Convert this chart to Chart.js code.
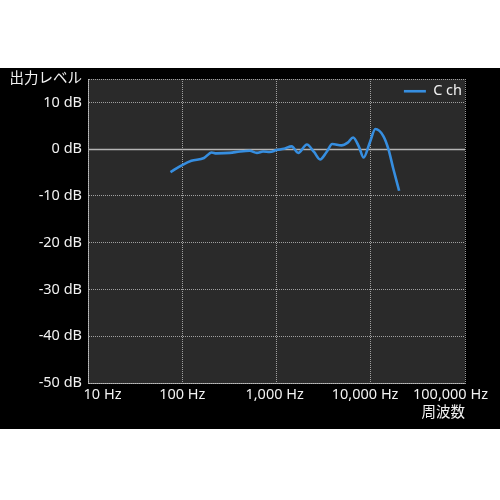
<!DOCTYPE html>
<html><head><meta charset="utf-8">
<script src="https://cdn.jsdelivr.net/npm/chart.js@4.4.1/dist/chart.umd.min.js"></script>
<style>
html,body{margin:0;padding:0;background:#fff;}
#wrap{position:absolute;left:0;top:68px;width:500px;height:361px;background:#000;}
</style>
</head><body>
<div id="wrap"><canvas id="c" width="500" height="361"></canvas></div>
<script>
const seriesName = 'C ch';
const freqs  = [75, 100, 125, 170, 205, 230, 320, 410, 520, 620, 720, 850, 1000, 1200, 1450, 1700, 2100, 2500, 2900, 3400, 3900, 4900, 5700, 6500, 7500, 8400, 9800, 11200, 13600, 15400, 17400, 20000];
const levels = [-4.9, -3.4, -2.5, -1.9, -0.7, -0.9, -0.8, -0.5, -0.35, -0.8, -0.5, -0.6, -0.2, 0.1, 0.6, -0.8, 1.0, -0.6, -2.2, -0.6, 1.1, 0.8, 1.4, 2.5, 0.5, -1.8, 1.5, 4.3, 2.8, 0.0, -4.3, -8.9];
const xTickValues = [10, 100, 1000, 10000, 100000];
const xTickLabels = ['10 Hz', '100 Hz', '1,000 Hz', '10,000 Hz', '100,000 Hz'];
const yTickValues = [-50, -40, -30, -20, -10, 0, 10, 15];
const yUnit = ' dB';
const yTopLabel = '出力レベル';
const xTitle = '周波数';

const FONT = '"Noto Sans", "Noto Sans CJK JP", sans-serif';
const FSIZE = 14.5;
const TEXT = '#f2f2f2';
const GRID = 'rgba(200,200,200,0.75)';

const bgPlugin = {
  id: 'bg',
  beforeDraw(chart) {
    const {ctx, chartArea: a} = chart;
    ctx.save();
    ctx.fillStyle = '#000';
    ctx.fillRect(0, 0, chart.width, chart.height);
    ctx.fillStyle = '#2a2a2a';
    ctx.fillRect(a.left, a.top, a.right - a.left, a.bottom - a.top);
    ctx.restore();
  },
  beforeDatasetsDraw(chart) {
    const {ctx, chartArea: a, scales} = chart;
    const y = Math.round(scales.y.getPixelForValue(0)) + 0.5;
    ctx.save();
    ctx.strokeStyle = '#b4b4b4';
    ctx.lineWidth = 1.5;
    ctx.beginPath();
    ctx.moveTo(a.left, y);
    ctx.lineTo(a.right, y);
    ctx.stroke();
    ctx.restore();
  }
};

const chart = new Chart(document.getElementById('c'), {
  type: 'line',
  data: {
    datasets: [{
      label: seriesName,
      data: freqs.map((f, i) => ({x: f, y: levels[i]})),
      borderColor: '#368ee0',
      backgroundColor: '#368ee0',
      borderWidth: 2.6,
      pointRadius: 0,
      cubicInterpolationMode: 'monotone',
      fill: false
    }]
  },
  options: {
    responsive: false,
    animation: false,
    layout: {padding: {left: 10, top: 0, right: 0, bottom: 0}},
    plugins: {
      legend: {
        position: 'top',
        align: 'end',
        fullSize: false,
        labels: {
          color: TEXT,
          font: {family: FONT, size: FSIZE},
          usePointStyle: true,
          pointStyle: 'line',
          pointStyleWidth: 22,
          padding: 6,
          boxHeight: 8
        }
      },
      tooltip: {enabled: false}
    },
    scales: {
      x: {
        type: 'logarithmic',
        min: 10,
        max: 100000,
        afterBuildTicks: s => { s.ticks = xTickValues.map(v => ({value: v, major: false})); },
        afterFit: s => { s.paddingRight = 35; s.paddingLeft = 0; s.height = 46; },
        grid: {color: GRID, lineWidth: 1, drawTicks: false},
        border: {display: true, color: GRID, dash: [1, 1]},
        ticks: {
          color: TEXT,
          font: {family: FONT, size: FSIZE},
          padding: 3,
          maxRotation: 0,
          autoSkip: false,
          callback: (v, i, arr) => {
            let s = xTickLabels[xTickValues.indexOf(v)] || '';
            if (i === 0) s = '\u3000\u3000' + s;
            if (i === arr.length - 1) s = s + '\u3000\u3000';
            if (v === 10000) s = s + '   ';
            if (v === 1000) s = s + ' ';
            return s;
          }
        },
        title: {
          display: true,
          text: xTitle,
          align: 'end',
          color: TEXT,
          font: {family: FONT, size: FSIZE},
          padding: {top: 0, bottom: 7}
        }
      },
      y: {
        min: -50,
        max: 15,
        afterBuildTicks: s => { s.ticks = yTickValues.map(v => ({value: v})); },
        afterFit: s => { s.width = 78; s.paddingTop = 11; s.paddingBottom = 0; },
        grid: {color: GRID, lineWidth: 1, drawTicks: false},
        border: {display: true, color: GRID, dash: [1, 1]},
        ticks: {
          color: TEXT,
          font: {family: FONT, size: FSIZE},
          padding: 6,
          autoSkip: false,
          callback: v => v === 15 ? yTopLabel : v + yUnit
        }
      }
    }
  },
  plugins: [bgPlugin]
});

// let the legend float over the plot area instead of taking layout space
const lg = chart.legend;
const origFit = lg.fit.bind(lg);
lg.fit = function () { origFit(); this.height = 0; };
lg.draw = function () {
  if (!this.options.display) return;
  const ctx = this.ctx;
  ctx.save();
  ctx.translate(3, -1);
  this._draw();
  ctx.restore();
};
chart.update();
</script>
</body></html>
